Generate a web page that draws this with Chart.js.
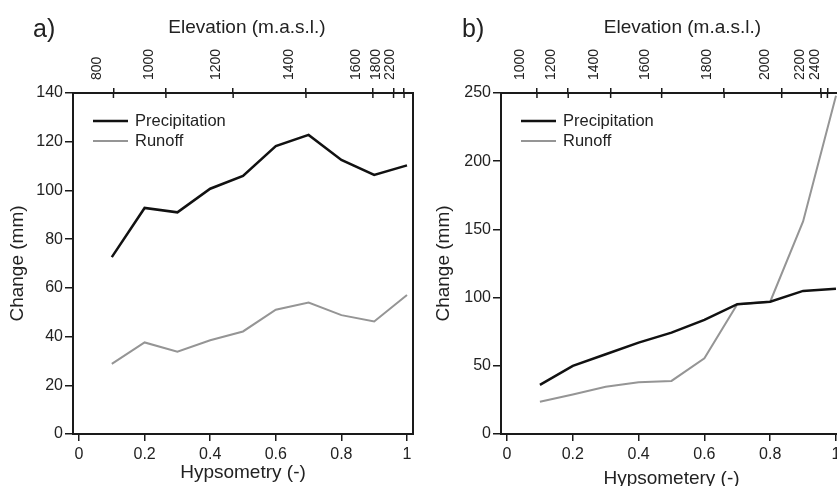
<!DOCTYPE html>
<html>
<head>
<meta charset="utf-8">
<script src="https://cdn.jsdelivr.net/npm/chart.js@4.4.1/dist/chart.umd.min.js"></script>
<style>
  html, body { margin: 0; padding: 0; background: #fff; overflow: hidden; width: 837px; height: 486px; }
  .panel { position: absolute; top: 0; }
</style>
</head>
<body>
<canvas id="chartA" class="panel" width="420" height="486" style="left:0"></canvas>
<canvas id="chartB" class="panel" width="430" height="486" style="left:420px"></canvas>
<script>
// Hypsometry positions of the data points
const hypsometry = [0.1, 0.2, 0.3, 0.4, 0.5, 0.6, 0.7, 0.8, 0.9, 1.0];

// Panel a
const precipA = [72.6, 92.8, 91.0, 100.7, 106.0, 118.2, 122.8, 112.5, 106.4, 110.3];
const runoffA = [28.8, 37.6, 33.8, 38.5, 42.1, 51.0, 54.0, 48.8, 46.2, 57.1];

// Panel b
const precipB = [36.0, 49.9, 58.5, 67.0, 74.3, 83.6, 95.2, 97.0, 104.9, 106.5];
const runoffB = [23.7, 29.0, 34.7, 37.9, 38.9, 55.5, 95.2, 97.0, 155.8, 248.0];

// Bottom axis ticks
const hypsTicks = [0, 0.2, 0.4, 0.6, 0.8, 1];
const hypsTickLabels = ['0', '0.2', '0.4', '0.6', '0.8', '1'];

// Top axis: elevation labels and where they sit on the hypsometry axis
const elevLabelsA = ['800', '1000', '1200', '1400', '1600', '1800', '2200'];
const elevPosA = [0.105, 0.265, 0.470, 0.692, 0.896, 0.959, 0.991];
const elevLabelsB = ['1000', '1200', '1400', '1600', '1800', '2000', '2200', '2400'];
const elevPosB = [0.091, 0.186, 0.315, 0.470, 0.660, 0.835, 0.955, 0.974];

const FONT = '"Liberation Sans", Arial, Helvetica, sans-serif';
const AXIS = '#1a1a1a';
Chart.defaults.font.family = FONT;
Chart.defaults.color = '#222';

// Frame, inner tick halves, legend, panel letter and top title
const panelDecor = {
    id: 'panelDecor',
    beforeDraw(chart, args, o) {
        // spread the crowded elevation labels a little, like the original figure
        const items = chart.scales.x2.getLabelItems();
        (o.nudge || []).forEach((dx, i) => {
            const it = items[items.length - o.nudge.length + i];
            if (it && !it._nudged) {
                it.options.translation[0] += dx;
                it._nudged = true;
            }
        });
    },
    afterDraw(chart, args, o) {
        const { ctx, chartArea: a } = chart;
        ctx.save();
        ctx.strokeStyle = AXIS;
        ctx.lineWidth = 2;
        ctx.strokeRect(a.left, a.top, a.right - a.left, a.bottom - a.top);

        const top = chart.scales.x2;
        ctx.lineWidth = 1.5;
        top.ticks.forEach(t => {
            const px = top.getPixelForValue(t.value);
            ctx.beginPath();
            ctx.moveTo(px, a.top);
            ctx.lineTo(px, a.top + 5);
            ctx.stroke();
        });

        chart.data.datasets.forEach((ds, i) => {
            const y = a.top + 28 + i * 20;
            ctx.strokeStyle = ds.borderColor;
            ctx.lineWidth = ds.borderWidth;
            ctx.beginPath();
            ctx.moveTo(a.left + 20, y);
            ctx.lineTo(a.left + 55, y);
            ctx.stroke();
            ctx.fillStyle = '#222';
            ctx.font = '16.5px ' + FONT;
            ctx.textBaseline = 'middle';
            ctx.textAlign = 'left';
            ctx.fillText(ds.label, a.left + 62, y);
        });

        ctx.fillStyle = '#222';
        ctx.textBaseline = 'alphabetic';
        ctx.font = '25px ' + FONT;
        ctx.fillText(o.letter, o.letterX, 37);
        ctx.font = '19px ' + FONT;
        ctx.textAlign = 'center';
        ctx.fillText('Elevation (m.a.s.l.)', (a.left + a.right) / 2 + o.titleShift, 33);
        ctx.restore();
    }
};

function makeChart(id, cfg) {
    const xMin = -0.0183, xMax = 1.0183;
    return new Chart(document.getElementById(id), {
        type: 'line',
        data: {
            datasets: [
                {
                    label: 'Precipitation',
                    data: hypsometry.map((h, i) => ({ x: h, y: cfg.precip[i] })),
                    borderColor: '#111',
                    borderWidth: 2.5,
                    pointRadius: 0,
                    tension: 0
                },
                {
                    label: 'Runoff',
                    data: hypsometry.map((h, i) => ({ x: h, y: cfg.runoff[i] })),
                    borderColor: '#959595',
                    borderWidth: 2,
                    pointRadius: 0,
                    tension: 0
                }
            ]
        },
        options: {
            responsive: false,
            animation: false,
            layout: { padding: { left: 0, top: 0, bottom: 0, right: cfg.padRight } },
            plugins: {
                legend: { display: false },
                tooltip: { enabled: false },
                panelDecor: { letter: cfg.letter, letterX: cfg.letterX, titleShift: cfg.titleShift, nudge: cfg.nudge }
            },
            scales: {
                x: {
                    type: 'linear',
                    position: 'bottom',
                    min: xMin,
                    max: xMax,
                    afterBuildTicks: s => { s.ticks = hypsTicks.map(v => ({ value: v })); },
                    afterFit: s => { s.height = 52; },
                    ticks: {
                        callback: (v, i) => hypsTickLabels[i],
                        font: { size: 16 },
                        padding: 4,
                        maxRotation: 0,
                        autoSkip: false
                    },
                    grid: { drawOnChartArea: false, tickLength: 7, color: AXIS, lineWidth: 1.5 },
                    border: { color: AXIS, width: 2 },
                    title: {
                        display: true,
                        text: cfg.xTitle,
                        font: { size: 19 },
                        padding: { top: 0, bottom: cfg.xTitlePad }
                    }
                },
                x2: {
                    type: 'linear',
                    position: 'top',
                    min: xMin,
                    max: xMax,
                    afterBuildTicks: s => { s.ticks = cfg.elevPos.map(v => ({ value: v })); },
                    afterFit: s => { s.height = 93; },
                    ticks: {
                        callback: (v, i) => cfg.elevLabels[i],
                        font: { size: 14 },
                        minRotation: 90,
                        maxRotation: 90,
                        padding: 8,
                        autoSkip: false
                    },
                    grid: { drawOnChartArea: false, tickLength: 5, color: AXIS, lineWidth: 1.5 },
                    border: { color: AXIS, width: 2 }
                },
                y: {
                    type: 'linear',
                    position: 'left',
                    min: 0,
                    max: cfg.yMax,
                    afterFit: s => { s.width = cfg.left; },
                    ticks: { stepSize: cfg.yStep, font: { size: 16 }, padding: 2 },
                    grid: { drawOnChartArea: false, tickLength: 8, color: AXIS, lineWidth: 1.5 },
                    border: { color: AXIS, width: 2 },
                    title: {
                        display: true,
                        text: 'Change (mm)',
                        font: { size: 19 },
                        padding: { top: cfg.yTitlePad, bottom: 0 }
                    }
                }
            }
        },
        plugins: [panelDecor]
    });
}

makeChart('chartA', {
    precip: precipA, runoff: runoffA,
    elevLabels: elevLabelsA, elevPos: elevPosA,
    yMax: 140, yStep: 20, left: 73, padRight: 7,
    letter: 'a)', letterX: 33, titleShift: 4, nudge: [-1, 3],
    xTitle: 'Hypsometry (-)', xTitlePad: 2, yTitlePad: 6
});

makeChart('chartB', {
    precip: precipB, runoff: runoffB,
    elevLabels: elevLabelsB, elevPos: elevPosB,
    yMax: 250, yStep: 50, left: 81, padRight: 8,
    letter: 'b)', letterX: 42, titleShift: 11, nudge: [-4.5, 4.5],
    xTitle: 'Hypsometery (-)', xTitlePad: -4, yTitlePad: 12
});
</script>
</body>
</html>
